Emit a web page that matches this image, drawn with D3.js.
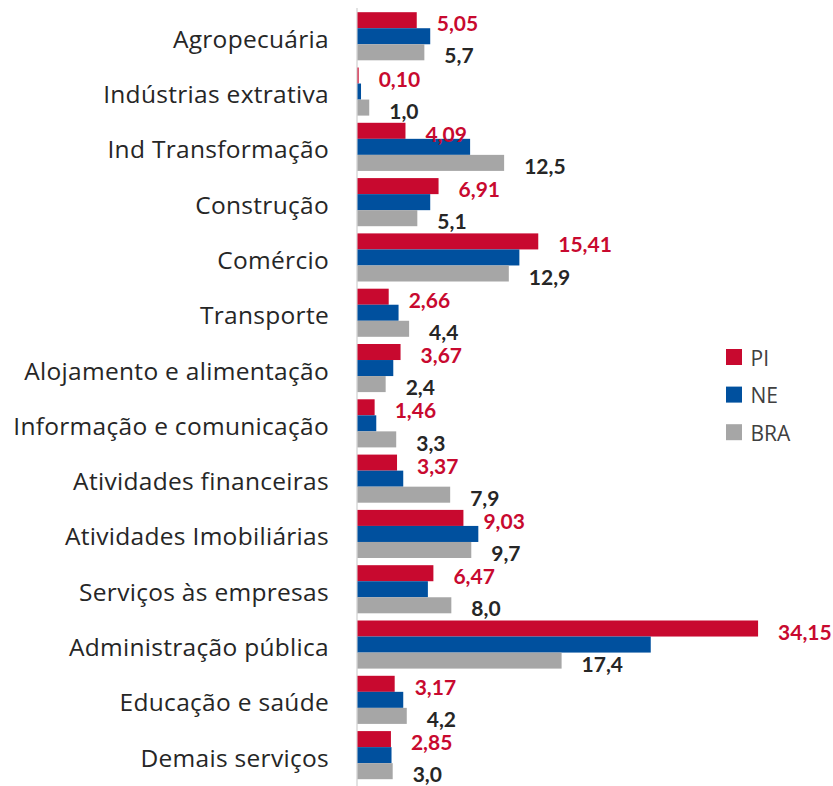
<!DOCTYPE html>
<html><head><meta charset="utf-8">
<script src="https://cdn.jsdelivr.net/npm/d3@7"></script>
<style>body{margin:0;background:#fff}</style>
</head><body>
<svg id="c" width="833" height="786"></svg>
<script>
const categories = ["Agropecuária","Indústrias extrativa","Ind Transformação","Construção","Comércio","Transporte","Alojamento e alimentação","Informação e comunicação","Atividades financeiras","Atividades Imobiliárias","Serviços às empresas","Administração pública","Educação e saúde","Demais serviços"];
const seriesNames = ["PI","NE","BRA"];
const valuesPI  = [5.05,0.10,4.09,6.91,15.41,2.66,3.67,1.46,3.37,9.03,6.47,34.15,3.17,2.85];
const valuesNE  = [6.2,0.3,9.6,6.2,13.8,3.5,3.05,1.6,3.9,10.3,6.0,25.0,3.9,2.9];
const valuesBRA = [5.7,1.0,12.5,5.1,12.9,4.4,2.4,3.3,7.9,9.7,8.0,17.4,4.2,3.0];
const labelsPI  = ["5,05","0,10","4,09","6,91","15,41","2,66","3,67","1,46","3,37","9,03","6,47","34,15","3,17","2,85"];
const labelsBRA = ["5,7","1,0","12,5","5,1","12,9","4,4","2,4","3,3","7,9","9,7","8,0","17,4","4,2","3,0"];
const colors = ["#C8092F","#00509E","#A6A6A6"];

const svg = d3.select("#c");
const x0 = 357.5;
const x = d3.scaleLinear().domain([0, 34.15]).range([x0, x0 + 34.15*11.73]);
const y = d3.scaleBand().domain(categories).range([8.6, 782.8]).paddingInner(0.13).paddingOuter(0.065);
const yi = d3.scaleBand().domain(seriesNames).range([0, y.bandwidth()]);
const allVals = [valuesPI, valuesNE, valuesBRA];

// axis line
svg.append("line").attr("x1", x0-0.5).attr("x2", x0-0.5).attr("y1", 8).attr("y2", 786)
  .attr("stroke", "#D9D9D9").attr("stroke-width", 1.5);

const rows = [];
categories.forEach((c,i)=>seriesNames.forEach((s,j)=>rows.push({c, s, j, v: allVals[j][i], i})));

svg.append("g").selectAll("rect").data(rows).join("rect")
  .attr("x", x0)
  .attr("y", d => y(d.c) + yi(d.s))
  .attr("width", d => x(d.v) - x0)
  .attr("height", yi.bandwidth())
  .attr("fill", d => colors[d.j]);

// category labels
const yAxis = d3.axisLeft(y).tickSize(0).tickPadding(0);
const ga = svg.append("g").attr("transform", `translate(329,0)`).call(yAxis);
ga.select(".domain").remove();
ga.selectAll("text").attr("font-family","'Open Sans', sans-serif").attr("font-size", 24.5)
  .attr("letter-spacing", "0.3px")
  .attr("fill","#262626").attr("dy", null).attr("dominant-baseline","central").attr("y", 2);

// value labels
svg.append("g").selectAll("text").data(categories).join("text")
  .attr("x", (d,i) => x(valuesPI[i]) + 20)
  .attr("y", d => y(d) + yi("PI") + yi.bandwidth()/2 + 2.5)
  .attr("dominant-baseline","central")
  .attr("font-family","Lato, sans-serif").attr("font-weight","bold").attr("font-size", 21)
  .attr("fill", colors[0])
  .text((d,i) => labelsPI[i]);
svg.append("g").selectAll("text").data(categories).join("text")
  .attr("x", (d,i) => x(valuesBRA[i]) + 20)
  .attr("y", d => y(d) + yi("BRA") + yi.bandwidth()/2 + 2.7)
  .attr("dominant-baseline","central")
  .attr("font-family","Lato, sans-serif").attr("font-weight","bold").attr("font-size", 21)
  .attr("fill", "#262626")
  .text((d,i) => labelsBRA[i]);

// legend
const lg = svg.append("g").attr("transform","translate(726,349)");
const li = lg.selectAll("g").data(seriesNames).join("g").attr("transform",(d,i)=>`translate(0,${i*37.6})`);
li.append("rect").attr("width",16).attr("height",16).attr("fill",(d,i)=>colors[i]);
li.append("text").attr("x",24.5).attr("y",8.5).attr("dominant-baseline","central")
  .attr("font-family","'Open Sans', sans-serif").attr("font-size",21).attr("fill","#404040").text(d=>d);
</script>
</body></html>
